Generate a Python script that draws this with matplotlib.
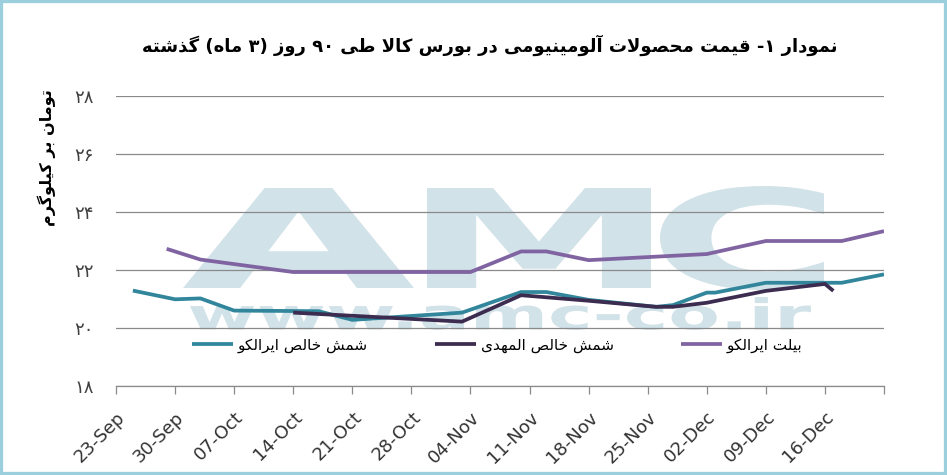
import re
import pandas as pd
import matplotlib
matplotlib.use("Agg")
import matplotlib.pyplot as plt
from matplotlib.textpath import TextPath
from matplotlib.patches import PathPatch, Rectangle
from matplotlib.font_manager import FontProperties
from matplotlib.transforms import Affine2D, ScaledTranslation

# ---- data (toman per kg, thousands) ----
teal_dates = ["2018-09-25", "2018-09-30", "2018-10-03", "2018-10-07", "2018-10-17", "2018-10-21",
              "2018-11-03", "2018-11-10", "2018-11-13", "2018-11-18", "2018-11-26", "2018-11-28",
              "2018-12-02", "2018-12-03", "2018-12-09", "2018-12-18", "2018-12-23"]
teal_vals = [21.29, 20.99, 21.02, 20.60, 20.58, 20.28,
             20.53, 21.24, 21.24, 20.97, 20.73, 20.79,
             21.22, 21.22, 21.56, 21.56, 21.85]

dark_dates = ["2018-10-14", "2018-11-03", "2018-11-10", "2018-11-18", "2018-11-26", "2018-11-28",
              "2018-12-02", "2018-12-09", "2018-12-16", "2018-12-17"]
dark_vals = [20.53, 20.22, 21.13, 20.94, 20.73, 20.73,
             20.87, 21.28, 21.52, 21.28]

purple_dates = ["2018-09-29", "2018-10-03", "2018-10-14", "2018-11-04", "2018-11-10", "2018-11-13",
                "2018-11-18", "2018-12-02", "2018-12-09", "2018-12-18", "2018-12-23"]
purple_vals = [22.73, 22.36, 21.93, 21.93, 22.64, 22.64,
               22.34, 22.55, 23.00, 23.00, 23.34]

series_names = ["شمش خالص ایرالکو", "شمش خالص المهدی", "بیلت ایرالکو"]
series_colors = ["#31869b", "#3b2c50", "#8064a2"]

x_ticklabels = ["23-Sep", "30-Sep", "07-Oct", "14-Oct", "21-Oct", "28-Oct", "04-Nov",
                "11-Nov", "18-Nov", "25-Nov", "02-Dec", "09-Dec", "16-Dec", ""]
y_ticks = [18, 20, 22, 24, 26, 28]
y_ticklabels = ["۱۸", "۲۰", "۲۲", "۲۴", "۲۶", "۲۸"]

title = "نمودار ۱- قیمت محصولات آلومینیومی در بورس کالا طی ۹۰ روز (۳ ماه) گذشته"
ylabel = "تومان بر کیلوگرم"

# ---- tiny persian shaper: matplotlib does no arabic joining / bidi ----
FORMS = {  # isolated, final, initial, medial
    "\u0622": (0xFE81, 0xFE82, None, None),
    "\u0627": (0xFE8D, 0xFE8E, None, None),
    "\u0628": (0xFE8F, 0xFE90, 0xFE91, 0xFE92),
    "\u062A": (0xFE95, 0xFE96, 0xFE97, 0xFE98),
    "\u062D": (0xFEA1, 0xFEA2, 0xFEA3, 0xFEA4),
    "\u062E": (0xFEA5, 0xFEA6, 0xFEA7, 0xFEA8),
    "\u062F": (0xFEA9, 0xFEAA, None, None),
    "\u0630": (0xFEAB, 0xFEAC, None, None),
    "\u0631": (0xFEAD, 0xFEAE, None, None),
    "\u0632": (0xFEAF, 0xFEB0, None, None),
    "\u0633": (0xFEB1, 0xFEB2, 0xFEB3, 0xFEB4),
    "\u0634": (0xFEB5, 0xFEB6, 0xFEB7, 0xFEB8),
    "\u0635": (0xFEB9, 0xFEBA, 0xFEBB, 0xFEBC),
    "\u0637": (0xFEC1, 0xFEC2, 0xFEC3, 0xFEC4),
    "\u0642": (0xFED5, 0xFED6, 0xFED7, 0xFED8),
    "\u0644": (0xFEDD, 0xFEDE, 0xFEDF, 0xFEE0),
    "\u0645": (0xFEE1, 0xFEE2, 0xFEE3, 0xFEE4),
    "\u0646": (0xFEE5, 0xFEE6, 0xFEE7, 0xFEE8),
    "\u0647": (0xFEE9, 0xFEEA, 0xFEEB, 0xFEEC),
    "\u0648": (0xFEED, 0xFEEE, None, None),
    "\u06A9": (0xFB8E, 0xFB8F, 0xFB90, 0xFB91),
    "\u06AF": (0xFB92, 0xFB93, 0xFB94, 0xFB95),
    "\u06CC": (0xFBFC, 0xFBFD, 0xFBFE, 0xFBFF),
}
LAM_ALEF = {"\u0627": (0xFEFB, 0xFEFC), "\u0622": (0xFEF5, 0xFEF6)}
DIGITS = "0123456789۰۱۲۳۴۵۶۷۸۹"
MIRROR = str.maketrans("()", ")(")


def shape(s):
    s = s.replace("\u0643", "\u06A9").replace("\u064A", "\u06CC").replace("\u0649", "\u06CC")
    out = []
    i = 0
    while i < len(s):
        c = s[i]
        if c not in FORMS:
            out.append(c)
            i += 1
            continue
        prev = s[i - 1] if i > 0 else ""
        jp = prev in FORMS and FORMS[prev][2] is not None
        if c == "\u0644" and i + 1 < len(s) and s[i + 1] in LAM_ALEF:
            iso, fin = LAM_ALEF[s[i + 1]]
            out.append(chr(fin if jp else iso))
            i += 2
            continue
        nxt = s[i + 1] if i + 1 < len(s) else ""
        iso, fin, ini, med = FORMS[c]
        jn = ini is not None and nxt in FORMS
        if jp and jn:
            f = med
        elif jp:
            f = fin
        elif jn:
            f = ini
        else:
            f = iso
        out.append(chr(f))
        i += 1
    return "".join(out)


def fa(text):
    s = shape(text)
    runs = re.findall(r"[0-9۰-۹]+|[^0-9۰-۹]+", s)
    out = []
    for r in reversed(runs):
        if r[0] in DIGITS:
            out.append(r)
        else:
            out.append(r[::-1].translate(MIRROR))
    return "".join(out)


W, H = 947, 475
fig = plt.figure(figsize=(W / 100, H / 100), dpi=100, facecolor="white")
ax = fig.add_axes([116 / W, 1 - 386 / H, (884 - 116) / W, (386 - 96) / H])
ax.set_facecolor("none")


# watermark behind everything
def stamp(s, box, color="#d2e2e9"):
    tp = TextPath((0, 0), s, size=100, prop=FontProperties(family="DejaVu Sans", weight="bold"))
    bb = tp.get_extents()
    x0, y0, x1, y1 = box
    t = (Affine2D().translate(-bb.x0, -bb.y0)
         .scale((x1 - x0) / bb.width / W, (y1 - y0) / bb.height / H)
         .translate(x0 / W, 1 - y1 / H))
    p = PathPatch(t.transform_path(tp), transform=fig.transFigure, fc=color, ec="none", zorder=-5)
    fig.add_artist(p)


stamp("A", (183, 188, 414, 288))
stamp("M", (427, 188, 651, 288))
stamp("C", (660, 186, 824, 290))
stamp("www.amc-co.ir", (190, 297, 811, 330))

all_dates = [teal_dates, dark_dates, purple_dates]
all_vals = [teal_vals, dark_vals, purple_vals]
for d, v, name, col in zip(all_dates, all_vals, series_names, series_colors):
    ax.plot(pd.to_datetime(d), v, color=col, lw=2.7, solid_joinstyle="round",
            solid_capstyle="butt", label=fa(name), zorder=3)

ticks = pd.date_range("2018-09-23", periods=len(x_ticklabels), freq="7D")
ax.set_xlim(ticks[0], ticks[-1])
ax.set_ylim(18, 28)
ax.set_xticks(ticks)
ax.set_xticklabels(x_ticklabels, rotation=45, ha="right", va="top", rotation_mode="anchor",
                   fontsize=13, color="#333333")
for lab in ax.get_xticklabels():
    lab.set_transform(lab.get_transform() + ScaledTranslation(8 / 100, 0, fig.dpi_scale_trans))
ax.set_yticks(y_ticks)
ax.set_yticklabels(y_ticklabels, fontsize=13, color="#404040")

ax.tick_params(axis="x", length=6, width=0.9, color="#8a8a8a", pad=10)
ax.tick_params(axis="y", length=0, pad=16)
ax.yaxis.grid(True, color="#8a8a8a", lw=0.9)
for side in ["top", "right", "left"]:
    ax.spines[side].set_visible(False)
ax.spines["bottom"].set_color("#8a8a8a")
ax.spines["bottom"].set_linewidth(0.9)

ax.legend(ncol=3, loc="center left", bbox_to_anchor=(192 / W, 1 - 345 / H),
          bbox_transform=fig.transFigure, frameon=False, fontsize=11,
          handlelength=2.7, handletextpad=0.3, columnspacing=4.4,
          borderpad=0, borderaxespad=0)

fig.text(490 / W, 1 - 45 / H, fa(title), ha="center", va="center", fontsize=13,
         fontweight="bold", color="black")
fig.text(47 / W, 1 - 158 / H, fa(ylabel), ha="center", va="center", rotation=90,
         fontsize=11.5, fontweight="bold", color="black")

fig.add_artist(Rectangle((0, 0), 1, 1, transform=fig.transFigure, fill=False,
                         ec="#9ccfde", lw=4.5, zorder=10))

fig.savefig("out.png", dpi=100, facecolor="white")
